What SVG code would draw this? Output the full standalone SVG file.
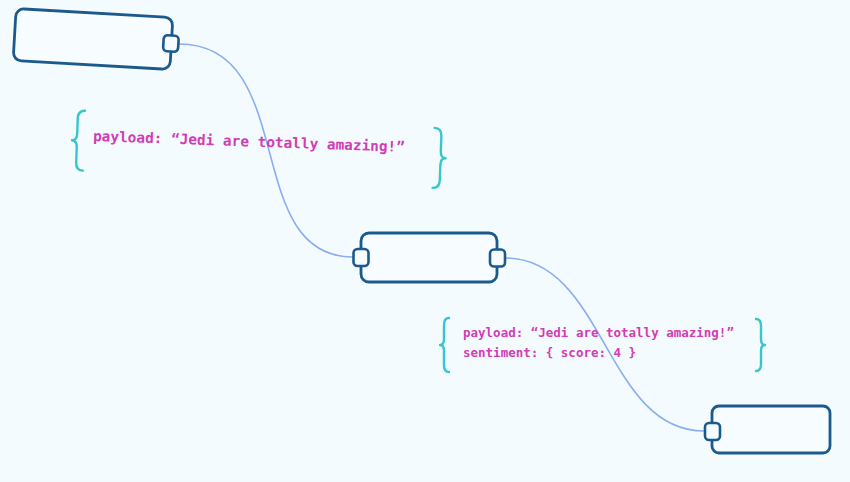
<svg xmlns="http://www.w3.org/2000/svg" width="850" height="482" viewBox="0 0 850 482">
<style>
.node{fill:#f6fcff;stroke:#1d5a8c;stroke-width:2.8}
.port{fill:#f6fcff;stroke:#1d5a8c;stroke-width:2.6}
.conn{fill:none;stroke:#8aaef0;stroke-width:1.6}
.brace{fill:none;stroke:#36c6cc;stroke-width:2.4;stroke-linecap:round;stroke-linejoin:round}
.code{font-family:"DejaVu Sans Mono","Liberation Mono",monospace;font-weight:bold;fill:#d23cb4}
</style>
<rect width="850" height="482" fill="#f4fbfe"/>
<g id="connectors">
<path class="conn" d="M179,44 C300,44 240,257 353,257"/>
<path class="conn" d="M505,258 C605,258 605,431 704,431"/>
</g>
<g id="node1" transform="rotate(3.3 93 39)">
<rect class="node" x="14.5" y="13" width="157" height="52" rx="8"/>
<rect class="port" x="163.5" y="-8" width="15" height="16" rx="4" transform="translate(0 39)"/>
</g>
<g id="node2">
<rect class="node" x="361" y="233" width="136" height="49" rx="8"/>
<rect class="port" x="353.5" y="249" width="15" height="17" rx="4"/>
<rect class="port" x="490" y="249.5" width="15" height="17" rx="4"/>
</g>
<g id="node3">
<rect class="node" x="712" y="406" width="118" height="47" rx="7"/>
<rect class="port" x="705" y="423" width="15" height="17" rx="4"/>
</g>
<g id="label1" transform="rotate(2 93 140)">
<path class="brace" d="M84,111 Q77,111 77,119 L77,134 Q77,141 72,141 Q77,141 77,148 L77,163 Q77,171 84,171"/>
<text class="code" x="93" y="141" font-size="14.4">payload: “Jedi are totally amazing!”</text>
<path class="brace" d="M434,116 Q441,116 441,124 L441,139 Q441,146 446,146 Q441,146 441,153 L441,168 Q441,176 434,176"/>
</g>
<g id="label2">
<path class="brace" d="M449,318 Q444,318 444,325 L444,339 Q444,345 440,345 Q444,345 444,351 L444,365 Q444,372 449,372"/>
<text class="code" x="463" y="337" font-size="12.5">payload: “Jedi are totally amazing!”</text>
<text class="code" x="463" y="357" font-size="12.5">sentiment: { score: 4 }</text>
<path class="brace" d="M756,319 Q761,319 761,326 L761,339 Q761,345 765,345 Q761,345 761,351 L761,364 Q761,371 756,371"/>
</g>
</svg>
